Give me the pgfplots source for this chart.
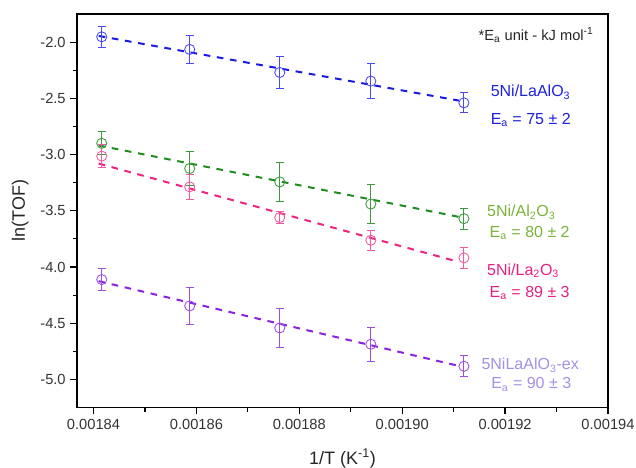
\documentclass[border=0pt]{standalone}
\usepackage{pgfplots}
\pgfplotsset{compat=1.18}
\usepackage{fontspec}
\setmainfont{Liberation Sans}

% series colours: fit line, marker, annotation text
\definecolor{blueL}{HTML}{1A1AE6}
\definecolor{blueM}{HTML}{4A4AF0}
\definecolor{blueT}{HTML}{1F1FE0}
\definecolor{greenL}{HTML}{1E8C1E}
\definecolor{greenM}{HTML}{3C9A3C}
\definecolor{greenT}{HTML}{7AB23A}
\definecolor{pinkL}{HTML}{F0237F}
\definecolor{pinkM}{HTML}{F05AA0}
\definecolor{pinkT}{HTML}{E8207F}
\definecolor{purpL}{HTML}{8A22E6}
\definecolor{purpM}{HTML}{9D4DE0}
\definecolor{purpT}{HTML}{A58FE6}
\definecolor{tickgray}{HTML}{333333}

\pgfplotsset{
  meas/.style={only marks, mark=o, mark size=3.8pt,
    mark options={line width=0.65pt},
    error bars/y dir=both, error bars/y explicit,
    error bars/error bar style={line width=0.7pt},
    error bars/error mark options={rotate=90, mark size=3pt, line width=0.7pt}},
  fitline/.style={no marks, line width=1.5pt, dash pattern=on 5pt off 5pt},
}

\begin{document}
\begin{tikzpicture}
\begin{axis}[
  scale only axis,
  width=398pt, height=295pt,
  xmin=0.0018368, xmax=0.00194,
  ymin=-5.25, ymax=-1.75,
  xtick={0.00184,0.00186,0.00188,0.00190,0.00192,0.00194},
  ytick={-5.0,-4.5,-4.0,-3.5,-3.0,-2.5,-2.0},
  minor x tick num=1, minor y tick num=1,
  scaled x ticks=false,
  /pgf/number format/assume math mode=true,
  xticklabel style={/pgf/number format/.cd, fixed, precision=5, fixed zerofill},
  yticklabel style={/pgf/number format/.cd, fixed, precision=1, fixed zerofill},
  tick label style={font=\fontsize{11}{13}\selectfont, text=tickgray},
  tick align=outside, tick pos=left,
  major tick length=5pt, minor tick length=3pt,
  every tick/.style={black, line width=0.9pt},
  axis line style={line width=1.1pt},
  xlabel={1/T (K\textsuperscript{-1})},
  ylabel={ln(TOF)},
  label style={font=\fontsize{13.5}{15}\selectfont, text=black!85},
  xlabel style={yshift=-8pt},
  ylabel style={yshift=2pt},
  clip=false,
]

% 5Ni/LaAlO3
\addplot[blueL, fitline] coordinates {(0.001841,-1.945) (0.001911,-2.520)};
\addplot[blueM, meas] coordinates {
  (0.0018416,-1.953) +- (0,0.093)
  (0.0018587,-2.065) +- (0,0.125)
  (0.0018762,-2.270) +- (0,0.140)
  (0.0018939,-2.347) +- (0,0.155)
  (0.0019120,-2.540) +- (0,0.090)
};

% 5Ni/Al2O3
\addplot[greenL, fitline] coordinates {(0.001841,-2.919) (0.001911,-3.554)};
\addplot[greenM, meas] coordinates {
  (0.0018416,-2.900) +- (0,0.102)
  (0.0018587,-3.124) +- (0,0.150)
  (0.0018762,-3.243) +- (0,0.170)
  (0.0018939,-3.440) +- (0,0.175)
  (0.0019120,-3.570) +- (0,0.092)
};

% 5Ni/La2O3
\addplot[pinkL, fitline] coordinates {(0.001841,-3.080) (0.001911,-3.955)};
\addplot[pinkM, meas] coordinates {
  (0.0018416,-3.014) +- (0,0.100)
  (0.0018587,-3.287) +- (0,0.110)
  (0.0018762,-3.560) +- (0,0.052)
  (0.0018939,-3.762) +- (0,0.088)
  (0.0019120,-3.919) +- (0,0.095)
};

% 5NiLaAlO3-ex
\addplot[purpL, fitline] coordinates {(0.001841,-4.126) (0.001911,-4.880)};
\addplot[purpM, meas] coordinates {
  (0.0018416,-4.112) +- (0,0.097)
  (0.0018587,-4.346) +- (0,0.162)
  (0.0018762,-4.542) +- (0,0.173)
  (0.0018939,-4.687) +- (0,0.150)
  (0.0019120,-4.883) +- (0,0.092)
};

% annotations
\node[anchor=east, font=\fontsize{11}{13}\selectfont, text=black!85]
  at (axis cs:0.0019381,-1.938) {*E\textsubscript{a} unit - kJ mol\textsuperscript{-1}};
\begin{scope}[every node/.style={anchor=west, font=\fontsize{12}{14}\selectfont}]
\node[text=blueT] at (axis cs:0.0019163,-2.445) {5Ni/LaAlO\textsubscript{3}};
\node[text=blueT] at (axis cs:0.0019163,-2.694) {E\textsubscript{a} = 75 ± 2};
\node[text=greenT] at (axis cs:0.0019156,-3.512) {5Ni/Al\textsubscript{2}O\textsubscript{3}};
\node[text=greenT] at (axis cs:0.0019161,-3.699) {E\textsubscript{a} = 80 ± 2};
\node[text=pinkT] at (axis cs:0.0019156,-4.035) {5Ni/La\textsubscript{2}O\textsubscript{3}};
\node[text=pinkT] at (axis cs:0.0019161,-4.233) {E\textsubscript{a} = 89 ± 3};
\node[text=purpT] at (axis cs:0.0019145,-4.874) {5NiLaAlO\textsubscript{3}-ex};
\node[text=purpT] at (axis cs:0.0019164,-5.043) {E\textsubscript{a} = 90 ± 3};
\end{scope}
\end{axis}
\pgfresetboundingbox
\path[use as bounding box] ([xshift=-57.75pt,yshift=-45pt]current axis.south west)
  rectangle ([xshift=21pt,yshift=10.5pt]current axis.north east);
\end{tikzpicture}
\end{document}
